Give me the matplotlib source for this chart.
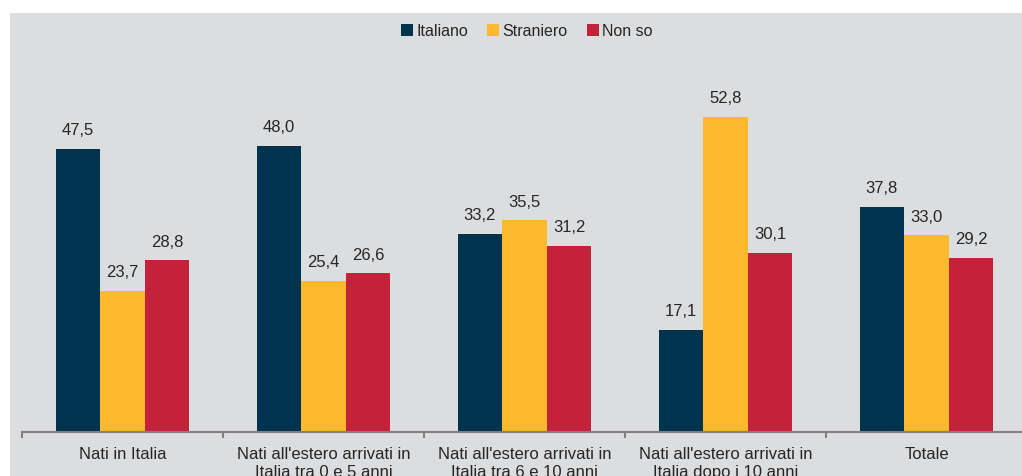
import matplotlib
matplotlib.use("Agg")
import matplotlib.pyplot as plt
from matplotlib.patches import Rectangle, Patch
import numpy as np

categories = ["Nati in Italia",
              "Nati all'estero arrivati in\nItalia tra 0 e 5 anni",
              "Nati all'estero arrivati in\nItalia tra 6 e 10 anni",
              "Nati all'estero arrivati in\nItalia dopo i 10 anni",
              "Totale"]
series_names = ["Italiano", "Straniero", "Non so"]
italiano = [47.5, 48.0, 33.2, 17.1, 37.8]
straniero = [23.7, 25.4, 35.5, 52.8, 33.0]
non_so = [28.8, 26.6, 31.2, 30.1, 29.2]
colors = ["#00334D", "#FBB92B", "#C4213A"]

plt.rcParams['font.family'] = ['Liberation Sans', 'DejaVu Sans']
W, H = 1022, 477
fig = plt.figure(figsize=(W/100, H/100), dpi=100)
fig.patch.set_facecolor("white")
fig.patches.append(Rectangle((10/W, 0), 1 - 10/W, (H-14)/H, transform=fig.transFigure,
                             facecolor="#DCDDDF", edgecolor="none", zorder=-10))

ax = fig.add_axes([22/W, (H-433)/H, 1005/W, 419/H])
ax.set_facecolor("none")
x = np.arange(len(categories))
bw = 0.222
text_color = "#262626"
for i, (vals, c) in enumerate(zip([italiano, straniero, non_so], colors)):
    pos = x + (i - 1) * bw
    ax.bar(pos, vals, width=bw, color=c, edgecolor="none")
    for p, v in zip(pos, vals):
        ax.annotate(f"{v:.1f}".replace(".", ","), (p, v), xytext=(0, 8.5),
                    textcoords="offset points", ha="center", va="bottom",
                    fontsize=12, color=text_color)

ax.set_xlim(-0.5, len(categories) - 0.5)
ax.set_ylim(0, 70.3)
ax.set_yticks([])
for s in ["top", "right", "left"]:
    ax.spines[s].set_visible(False)
ax.spines["bottom"].set_color("#808080")
ax.spines["bottom"].set_linewidth(1.5)
ax.set_xticks(x)
ax.set_xticklabels(categories, fontsize=12, color=text_color, linespacing=1.25)
ax.tick_params(axis="x", which="major", length=0, pad=10)
ax.set_xticks(np.arange(-0.5, len(categories)), minor=True)
ax.tick_params(axis="x", which="minor", length=4, width=1.5, color="#808080")

handles = [Patch(facecolor=c, edgecolor="none") for c in colors]
fig.legend(handles, series_names, loc="center", bbox_to_anchor=(527/W, 1 - 32/H),
           ncol=3, frameon=False, fontsize=11.5, handlelength=0.75, handleheight=0.75,
           handletextpad=0.2, columnspacing=1.2, labelcolor=text_color)

fig.savefig("out.png", dpi=100)
